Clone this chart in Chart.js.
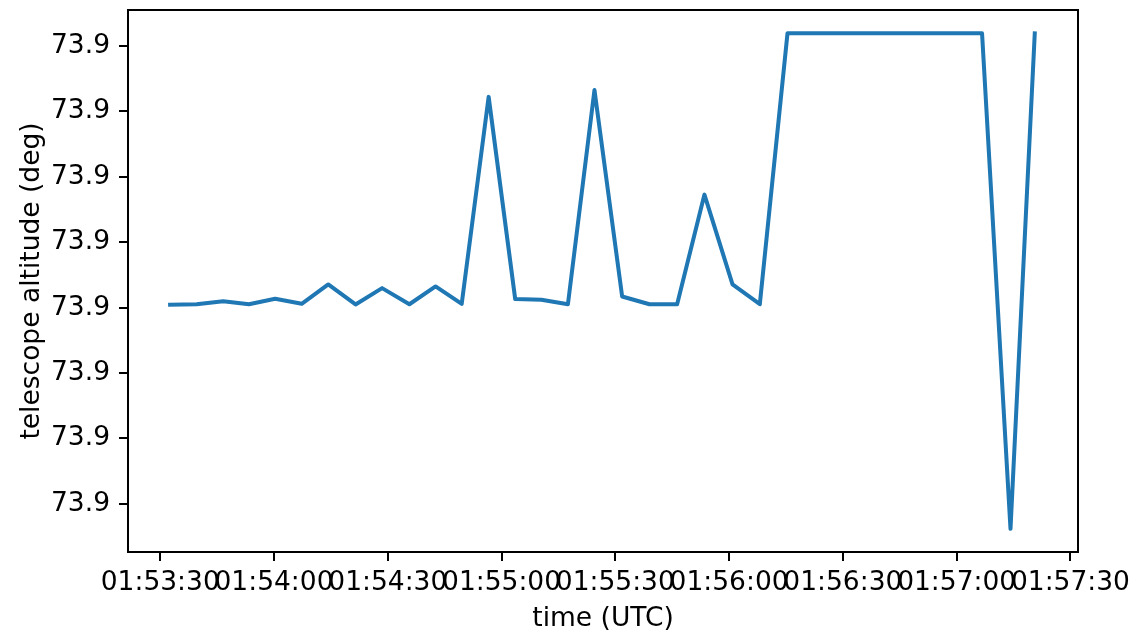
<!DOCTYPE html>
<html>
<head>
<meta charset="utf-8">
<script src="https://cdn.jsdelivr.net/npm/chart.js@4/dist/chart.umd.min.js"></script>
<style>
html,body{margin:0;padding:0;background:#fff;}
#c{display:block;}
</style>
</head>
<body>
<canvas id="c" width="1135" height="636"></canvas>
<script>
// ---- data ----
const times = [
  "01:53:32.6","01:53:39.6","01:53:46.6","01:53:53.4","01:54:00.3","01:54:07.3",
  "01:54:14.3","01:54:21.5","01:54:28.5","01:54:35.7","01:54:42.6","01:54:49.5",
  "01:54:56.6","01:55:03.6","01:55:10.5","01:55:17.5","01:55:24.5","01:55:31.8",
  "01:55:39.0","01:55:46.3","01:55:53.5","01:56:00.9","01:56:08.1","01:56:15.4",
  "01:56:22.7","01:56:30.0","01:56:37.3","01:56:44.6","01:56:51.9","01:56:59.3",
  "01:57:06.7","01:57:14.2","01:57:20.6"
];
const altitude = [
  73.901522,73.901526,73.901549,73.901526,73.901568,73.901529,
  73.901677,73.901524,73.901649,73.901526,73.901662,73.901529,
  73.903111,73.901565,73.901560,73.901526,73.903163,73.901585,
  73.901526,73.901526,73.902364,73.901677,73.901526,73.903597,
  73.903597,73.903597,73.903597,73.903597,73.903597,73.903597,
  73.903597,73.899809,73.903597
];
const xTickLabels = ["01:53:30","01:54:00","01:54:30","01:55:00","01:55:30","01:56:00","01:56:30","01:57:00","01:57:30"];
const yTickValues = [73.9000,73.9005,73.9010,73.9015,73.9020,73.9025,73.9030,73.9035];
const xRange = ["01:53:21.5","01:57:32.0"];
const yRange = [73.899632,73.903775];

function toSec(s){const p=s.split(":");return (+p[0])*3600+(+p[1])*60+(+p[2]);}
function fmt(v){v=Math.round(v);const h=Math.floor(v/3600),m=Math.floor((v%3600)/60),s=v%60;
  const z=n=>String(n).padStart(2,"0");return z(h)+":"+z(m)+":"+z(s);}

const points = times.map((t,i)=>({x:toSec(t),y:altitude[i]}));
const xTickValues = xTickLabels.map(toSec);

const FONT = {family:"'DejaVu Sans', sans-serif", size:26.5};

const frame = {
  id:'frame',
  afterDraw(chart){
    const a=chart.chartArea, c=chart.ctx;
    c.save(); c.strokeStyle='#000'; c.lineWidth=2;
    c.strokeRect(a.left, a.top, a.right-a.left, a.bottom-a.top);
    c.restore();
  }
};

new Chart(document.getElementById('c'), {
  type:'line',
  data:{datasets:[{
    data:points,
    borderColor:'#1f77b4',
    borderWidth:4,
    pointRadius:0,
    tension:0,
    fill:false,
    borderJoinStyle:'round',
    borderCapStyle:'square'
  }]},
  options:{
    responsive:false,
    animation:false,
    devicePixelRatio:1,
    layout:{padding:{top:10,right:57,left:0,bottom:0}},
    plugins:{legend:{display:false},tooltip:{enabled:false}},
    scales:{
      x:{
        type:'linear',
        min:toSec(xRange[0]), max:toSec(xRange[1]),
        afterBuildTicks(s){s.ticks=xTickValues.map(v=>({value:v}));},
        afterFit(s){s.height=84;s.paddingLeft=0;s.paddingRight=0;},
        ticks:{font:FONT,color:'#000',padding:6,maxRotation:0,autoSkip:false,callback:v=>fmt(v)},
        grid:{drawOnChartArea:false,drawTicks:true,tickLength:9,color:'#000',lineWidth:2},
        border:{display:true,color:'#000',width:2},
        title:{display:true,text:'time (UTC)',font:FONT,color:'#000',padding:{top:0,bottom:1}}
      },
      y:{
        type:'linear',
        min:yRange[0], max:yRange[1],
        afterBuildTicks(s){s.ticks=yTickValues.map(v=>({value:v}));},
        afterFit(s){s.width=128;s.paddingTop=0;s.paddingBottom=0;},
        ticks:{font:FONT,color:'#000',padding:9,autoSkip:false,callback:v=>Number(v).toFixed(1)},
        grid:{drawOnChartArea:false,drawTicks:true,tickLength:9,color:'#000',lineWidth:2},
        border:{display:true,color:'#000',width:2},
        title:{display:true,text:'telescope altitude (deg)',font:FONT,color:'#000',padding:{top:16,bottom:0}}
      }
    }
  },
  plugins:[frame]
});
</script>
</body>
</html>
